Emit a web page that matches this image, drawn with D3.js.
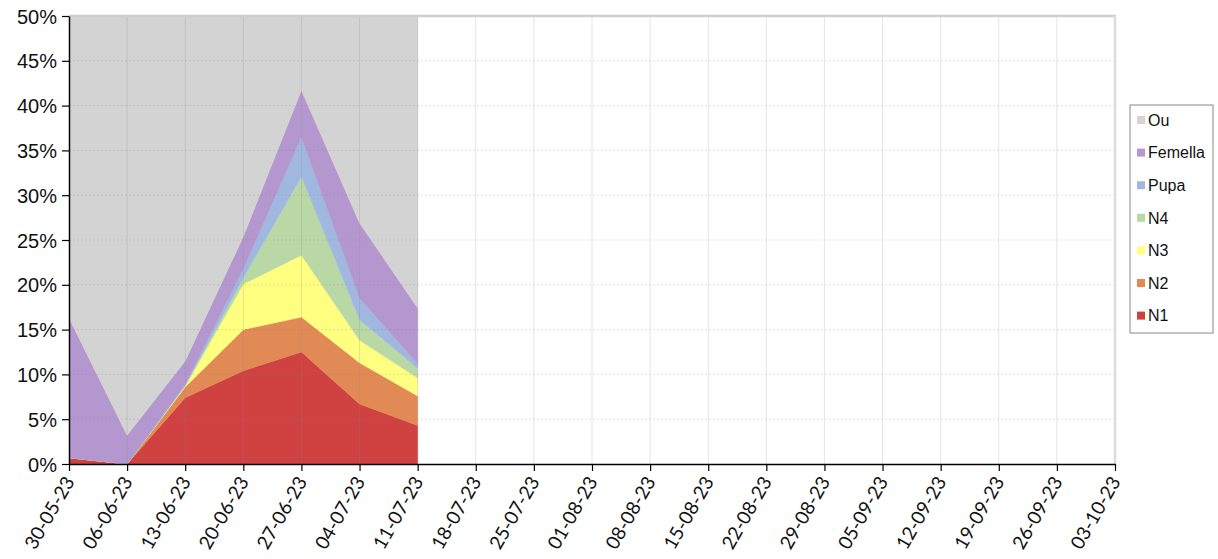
<!DOCTYPE html>
<html>
<head>
<meta charset="utf-8">
<script src="https://cdn.jsdelivr.net/npm/d3@7"></script>
<style>
  body { margin: 0; background: #fff; }
  svg { display: block; }
</style>
</head>
<body>
<svg id="chart"></svg>
<script>
// tick labels along x (weekly samples)
const dates = ["30-05-23", "06-06-23", "13-06-23", "20-06-23", "27-06-23", "04-07-23", "11-07-23",
  "18-07-23", "25-07-23", "01-08-23", "08-08-23", "15-08-23", "22-08-23", "29-08-23",
  "05-09-23", "12-09-23", "19-09-23", "26-09-23", "03-10-23"];

// series values in % (only the first 7 weeks have data)
const n1      = [0.7, 0.0, 7.4, 10.4, 12.5, 6.7, 4.3];
const n2      = [0.0, 0.0, 1.2, 4.6, 3.9, 4.6, 3.3];
const n3      = [0.0, 0.0, 0.1, 5.1, 6.9, 2.5, 2.0];
const n4      = [0.0, 0.0, 0.1, 0.7, 8.8, 2.3, 1.1];
const pupa    = [0.0, 0.0, 0.1, 1.0, 4.4, 2.4, 0.5];
const femella = [15.6, 3.2, 2.6, 3.6, 5.2, 8.4, 6.2];
const ou      = [83.7, 96.8, 88.5, 74.6, 58.3, 73.1, 82.6];

const yTicks = [0, 5, 10, 15, 20, 25, 30, 35, 40, 45, 50];

const seriesNames = ["N1", "N2", "N3", "N4", "Pupa", "Femella", "Ou"];
const seriesData = [n1, n2, n3, n4, pupa, femella, ou];
const colors = ["#d04141", "#e28a55", "#ffff80", "#b9d8a5", "#a0b8e0", "#b497cf", "#d3d3d3"];

const W = 1218, H = 559;
const margin = { top: 16, right: 103, bottom: 95, left: 69 };
const width = W - margin.left - margin.right;
const height = H - margin.top - margin.bottom;

const svg = d3.select("#chart").attr("width", W).attr("height", H);

const x = d3.scalePoint().domain(dates).range([0, width]);
const y = d3.scaleLinear().domain([0, 50]).range([height, 0]);

// table for the stack
const rows = n1.map((_, i) => {
  const r = { date: dates[i] };
  seriesNames.forEach((s, k) => r[s] = seriesData[k][i]);
  return r;
});
const stacked = d3.stack().keys(seriesNames)(rows);

const main = svg.append("g").attr("transform", `translate(${margin.left},${margin.top})`);

main.append("clipPath").attr("id", "plotclip")
  .append("rect").attr("width", width).attr("height", height);

const area = d3.area()
  .x(d => x(d.data.date))
  .y0(d => y(d[0]))
  .y1(d => y(d[1]));

main.append("g").attr("clip-path", "url(#plotclip)")
  .selectAll("path")
  .data(stacked)
  .join("path")
  .attr("d", area)
  .attr("fill", (d, i) => colors[i])
  .attr("stroke", (d, i) => colors[i])
  .attr("stroke-width", 0.5);

// gridlines on top
main.append("g")
  .selectAll("line")
  .data(dates.slice(1, -1))
  .join("line")
  .attr("x1", d => x(d)).attr("x2", d => x(d))
  .attr("y1", 0).attr("y2", height)
  .attr("stroke", "#888")
  .attr("stroke-opacity", 0.22)
  .attr("stroke-width", 1);

main.append("g")
  .selectAll("line")
  .data(yTicks.slice(1, -1))
  .join("line")
  .attr("x1", 0).attr("x2", width)
  .attr("y1", d => y(d)).attr("y2", d => y(d))
  .attr("stroke", "#888")
  .attr("stroke-opacity", 0.25)
  .attr("stroke-dasharray", "2,2");

// plot frame (top and right)
main.append("line").attr("x1", 0).attr("x2", width + 1).attr("y1", 0).attr("y2", 0)
  .attr("stroke", "#cfcfcf").attr("stroke-width", 2.5);
main.append("line").attr("x1", width).attr("x2", width).attr("y1", 0).attr("y2", height)
  .attr("stroke", "#dcdcdc").attr("stroke-width", 2.5);

// y axis
const yAxis = d3.axisLeft(y).tickValues(yTicks).tickFormat(d => d + "%").tickSize(7).tickSizeOuter(0);
const gy = main.append("g").call(yAxis);
gy.select(".domain").attr("stroke", "#000").attr("stroke-width", 1.5);
gy.selectAll(".tick line").attr("stroke", "#000").attr("stroke-width", 1.2);
gy.selectAll("text")
  .attr("font-family", "Liberation Sans, Arial, sans-serif")
  .attr("font-size", 20)
  .attr("fill", "#111")
  .attr("x", -12)
  .attr("dy", "0.35em");

// x axis
const xAxis = d3.axisBottom(x).tickSize(7).tickSizeOuter(0);
const gx = main.append("g").attr("transform", `translate(0,${height})`).call(xAxis);
gx.select(".domain").attr("stroke", "#000").attr("stroke-width", 1.5);
gx.selectAll(".tick line").attr("stroke", "#000").attr("stroke-width", 1.2);
gx.selectAll("text")
  .attr("font-family", "Lato, 'Open Sans', sans-serif")
  .attr("font-size", 19)
  .attr("fill", "#111")
  .attr("text-anchor", "end")
  .attr("transform", "translate(0,14) rotate(-60)")
  .attr("x", 0).attr("y", 0).attr("dy", "0.35em");

// legend
const legend = svg.append("g").attr("transform", "translate(1130,105)");
legend.append("rect")
  .attr("width", 83).attr("height", 228)
  .attr("fill", "#fff").attr("stroke", "#888").attr("stroke-width", 1);

const legendOrder = seriesNames.map((s, i) => ({ name: s, color: colors[i] })).reverse();
const items = legend.selectAll(".item")
  .data(legendOrder)
  .join("g")
  .attr("class", "item")
  .attr("transform", (d, i) => `translate(7,${15 + i * 32.6})`);
items.append("rect")
  .attr("x", 0).attr("y", -4).attr("width", 8).attr("height", 8)
  .attr("fill", d => d.color);
items.append("text")
  .attr("x", 11).attr("y", 0).attr("dy", "0.36em")
  .attr("font-family", "Liberation Sans, Arial, sans-serif")
  .attr("font-size", 16)
  .attr("fill", "#111")
  .text(d => d.name);
</script>
</body>
</html>
